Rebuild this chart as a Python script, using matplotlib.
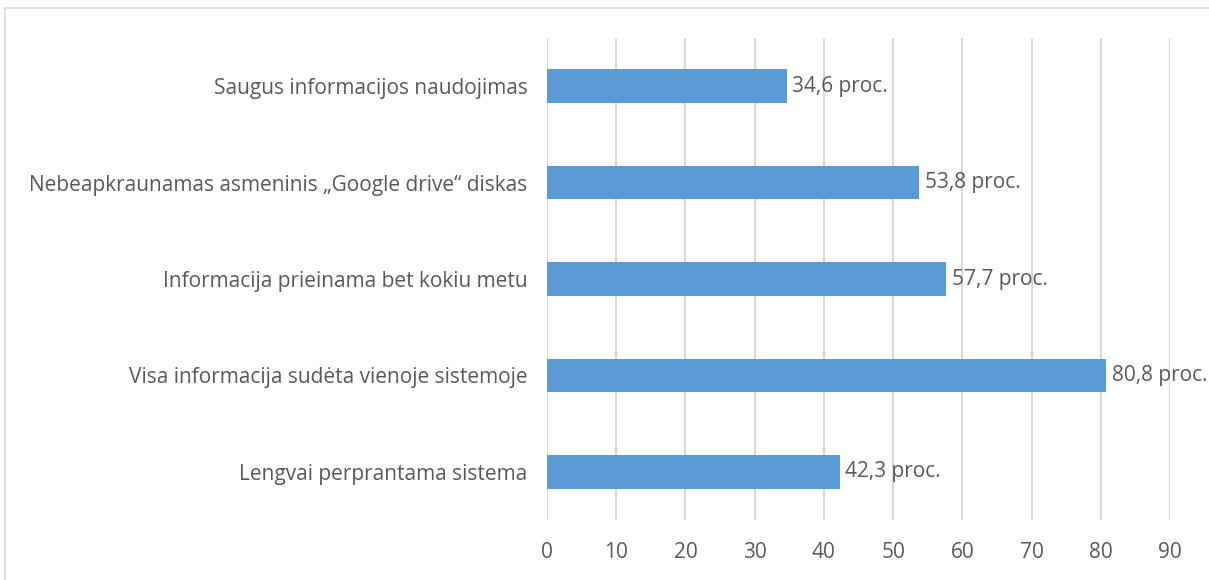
import matplotlib.pyplot as plt
from matplotlib.lines import Line2D

categories = [
    "Lengvai perprantama sistema",
    "Visa informacija sudėta vienoje sistemoje",
    "Informacija prieinama bet kokiu metu",
    "Nebeapkraunamas asmeninis „Google drive“ diskas",
    "Saugus informacijos naudojimas",
]
values = [42.3, 80.8, 57.7, 53.8, 34.6]
xticks = list(range(0, 100, 10))

plt.rcParams["font.family"] = ["Open Sans", "DejaVu Sans"]
text_color = "#595959"
grid_color = "#D9D9D9"
bar_color = "#5B9BD5"

fig = plt.figure(figsize=(12.09, 5.80), dpi=100)
ax = fig.add_axes([547 / 1209, 1 - 520 / 580, (1170 - 547) / 1209, (520 - 38) / 580])

ypos = range(len(categories))
ax.barh(ypos, values, height=0.35, color=bar_color, zorder=3)

for y, v in zip(ypos, values):
    label = f"{v:.1f}".replace(".", ",") + " proc."
    ax.annotate(label, (v, y), xytext=(4, 0), textcoords="offset points",
                va="center", ha="left", fontsize=15, color=text_color, zorder=4)

ax.set_xlim(0, 90)
ax.set_ylim(-0.5, len(categories) - 0.5)
ax.set_xticks(xticks)
ax.set_yticks(list(ypos))
ax.set_yticklabels(categories)
ax.tick_params(axis="both", length=0, labelsize=15, colors=text_color)
ax.tick_params(axis="y", pad=14)
ax.tick_params(axis="x", pad=16)
ax.xaxis.grid(True, color=grid_color, linewidth=1.6, zorder=0)
for s in ax.spines.values():
    s.set_visible(False)

# outer chart frame
fx0, fy0 = 5 / 1209, 1 - 8 / 580
fig.add_artist(Line2D([fx0, 1.0], [fy0, fy0], color=grid_color, linewidth=1.2))
fig.add_artist(Line2D([fx0, fx0], [0.0, fy0], color=grid_color, linewidth=1.2))

fig.savefig("out.png", dpi=100)
